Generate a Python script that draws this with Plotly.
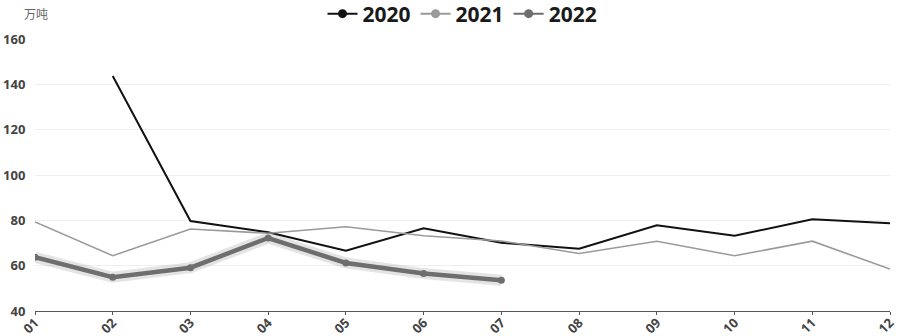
import plotly.graph_objects as go

months = ["01", "02", "03", "04", "05", "06", "07", "08", "09", "10", "11", "12"]
y2020 = [None, 143.7, 79.7, 74.7, 66.6, 76.5, 70.1, 67.5, 77.8, 73.2, 80.5, 78.7]
y2021 = [79.3, 64.4, 76.2, 74.3, 77.2, 73.2, 70.9, 65.4, 70.8, 64.4, 70.8, 58.5]
y2022 = [63.7, 54.9, 59.1, 72.2, 61.2, 56.5, 53.6]

FONT = "Noto Sans"
C2020, C2021, C2022 = "#111111", "#9a9a9a", "#6e6e6e"

fig = go.Figure()
fig.add_trace(go.Scatter(x=months, y=y2020, name="2020", mode="lines", showlegend=False,
                         line=dict(color=C2020, width=2)))
fig.add_trace(go.Scatter(x=months, y=y2021, name="2021", mode="lines", showlegend=False,
                         line=dict(color=C2021, width=1.6)))
# soft shadow under the 2022 line
fig.add_trace(go.Scatter(x=months[:len(y2022)], y=y2022, mode="lines", showlegend=False,
                         hoverinfo="skip",
                         line=dict(color="rgba(120,120,120,0.2)", width=11)))
fig.add_trace(go.Scatter(x=months[:len(y2022)], y=y2022, name="2022", mode="lines+markers",
                         showlegend=False,
                         line=dict(color=C2022, width=4.5),
                         marker=dict(size=7, color=C2022)))

# legend entries (line + dot symbols)
for name, col in [("2020", C2020), ("2021", C2021), ("2022", C2022)]:
    fig.add_trace(go.Scatter(x=[None], y=[None], name=name, mode="lines+markers",
                             line=dict(color=col, width=2), marker=dict(size=9, color=col)))

fig.update_layout(
    width=900, height=336,
    margin=dict(l=35, r=10, t=39, b=25, autoexpand=False),
    paper_bgcolor="white", plot_bgcolor="white",
    showlegend=True,
    legend=dict(orientation="h", x=0.5, xanchor="center", y=1.092, yanchor="middle",
                font=dict(family=FONT, size=21, color="#1a1a1a", weight="bold"),
                itemwidth=30, tracegroupgap=0, bgcolor="rgba(0,0,0,0)"),
    xaxis=dict(type="category", range=[0, 11], tickangle=-45, showgrid=False,
               showline=True, linecolor="#555555", linewidth=1,
               ticks="outside", ticklen=3, tickcolor="#555555",
               ticklabelstandoff=-5,
               tickfont=dict(family=FONT, size=13, color="#444444", weight="bold"),
               automargin=False),
    yaxis=dict(range=[40, 160], dtick=20, showgrid=True, gridcolor="#efefef",
               zeroline=False, showline=False, ticks="outside", ticklen=6,
               tickcolor="rgba(0,0,0,0)",
               tickfont=dict(family=FONT, size=13, color="#444444", weight="bold"),
               automargin=False),
    annotations=[dict(text="万吨", xref="paper", yref="paper", x=-0.015, y=1.055,
                      xanchor="left", yanchor="bottom", showarrow=False,
                      font=dict(family="Noto Sans CJK SC", size=12, color="#666666"))],
)

fig.write_html("out.html")
